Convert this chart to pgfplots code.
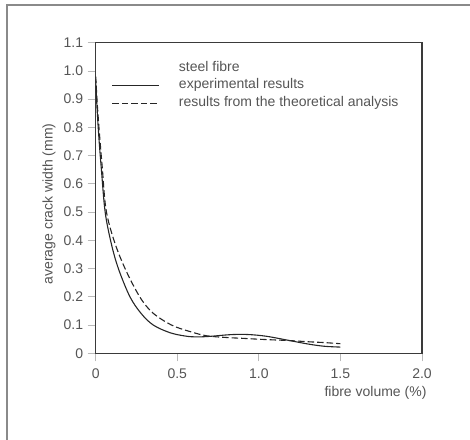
\documentclass[border=0pt]{standalone}
\usepackage{fontspec}
\setmainfont{Liberation Sans}
\usepackage{pgfplots}
\pgfplotsset{compat=1.18}
\definecolor{txt}{HTML}{555555}
\definecolor{axc}{HTML}{3A3A3A}
\definecolor{frm}{HTML}{8A8A8A}
\begin{document}
\begin{tikzpicture}
\begin{axis}[
  name=ax,
  at={(0pt,0pt)}, anchor=south west,
  scale only axis, width=326.3pt, height=310.6pt,
  xmin=0, xmax=2, ymin=0, ymax=1.1,
  axis line style={draw=axc, line width=1.1pt},
  xtick={0,0.5,1,1.5,2},
  xticklabels={0,0.5,1.0,1.5,2.0},
  ytick={0,0.1,0.2,0.3,0.4,0.5,0.6,0.7,0.8,0.9,1.0,1.1},
  yticklabels={0,0.1,0.2,0.3,0.4,0.5,0.6,0.7,0.8,0.9,1.0,1.1},
  xtick pos=bottom, ytick pos=left,
  tick align=outside, major tick length=8pt,
  tick style={draw=gray!55, line width=0.8pt},
  ticklabel style={font=\fontsize{14}{16}\selectfont, text=txt},
  xticklabel style={yshift=-4pt},
  yticklabel style={xshift=-1pt},
  xlabel={fibre volume (\%)},
  xlabel style={at={(rel axis cs:1.0245,0)}, anchor=east, yshift=-39.7pt, font=\fontsize{14}{16}\selectfont, text=txt},
  ylabel={average crack width (mm)},
  ylabel style={at={(rel axis cs:-0.143,0.481)}, anchor=center, font=\fontsize{14}{16}\selectfont, text=txt},
  legend style={draw=none, fill=none, inner sep=0pt, at={(0.049,0.941)}, anchor=north west,
    font=\fontsize{14}{16}\selectfont, text=txt, row sep=4.7pt,
    nodes={inner sep=0pt, text height=10pt, text depth=3pt},
    /tikz/every odd column/.append style={column sep=19pt}},
  legend cell align=left,
  legend image code/.code={\draw[#1] (0pt,0pt) -- (47pt,0pt);},
]
\addlegendimage{empty legend}
\addlegendentry{steel fibre}
\addplot[smooth, draw=black!85, line width=1.1pt, tension=0.55] coordinates {
(0,0.97) (0.008,0.87) (0.02,0.76) (0.035,0.65) (0.058,0.5)
(0.095,0.39) (0.139,0.3) (0.21,0.2) (0.28,0.14) (0.353,0.1) (0.455,0.073)
(0.55,0.061) (0.62,0.058) (0.7,0.06) (0.8,0.065) (0.87,0.067) (0.95,0.066)
(1.05,0.06) (1.19,0.045) (1.3,0.033) (1.4,0.025) (1.5,0.022)};
\addlegendentry{experimental results}
\addplot[smooth, draw=black!85, line width=1.1pt, dash pattern=on 6.5pt off 3pt, tension=0.55] coordinates {
(0,0.98) (0.01,0.88) (0.024,0.77) (0.04,0.66) (0.063,0.51)
(0.112,0.4) (0.18,0.3) (0.27,0.2) (0.35,0.143) (0.465,0.1) (0.578,0.077)
(0.68,0.062) (0.8,0.056) (0.9,0.053) (1.03,0.049) (1.19,0.045) (1.3,0.041)
(1.4,0.038) (1.5,0.034)};
\addlegendentry{results from the theoretical analysis}
\end{axis}
\draw[frm, line width=2pt] (-88.7pt,-90pt) -- (-88.7pt,347.8pt) -- (380pt,347.8pt);
\pgfresetboundingbox
\useasboundingbox (-95.7pt,-85.7pt) rectangle (374.3pt,353.3pt);
\end{tikzpicture}
\end{document}
